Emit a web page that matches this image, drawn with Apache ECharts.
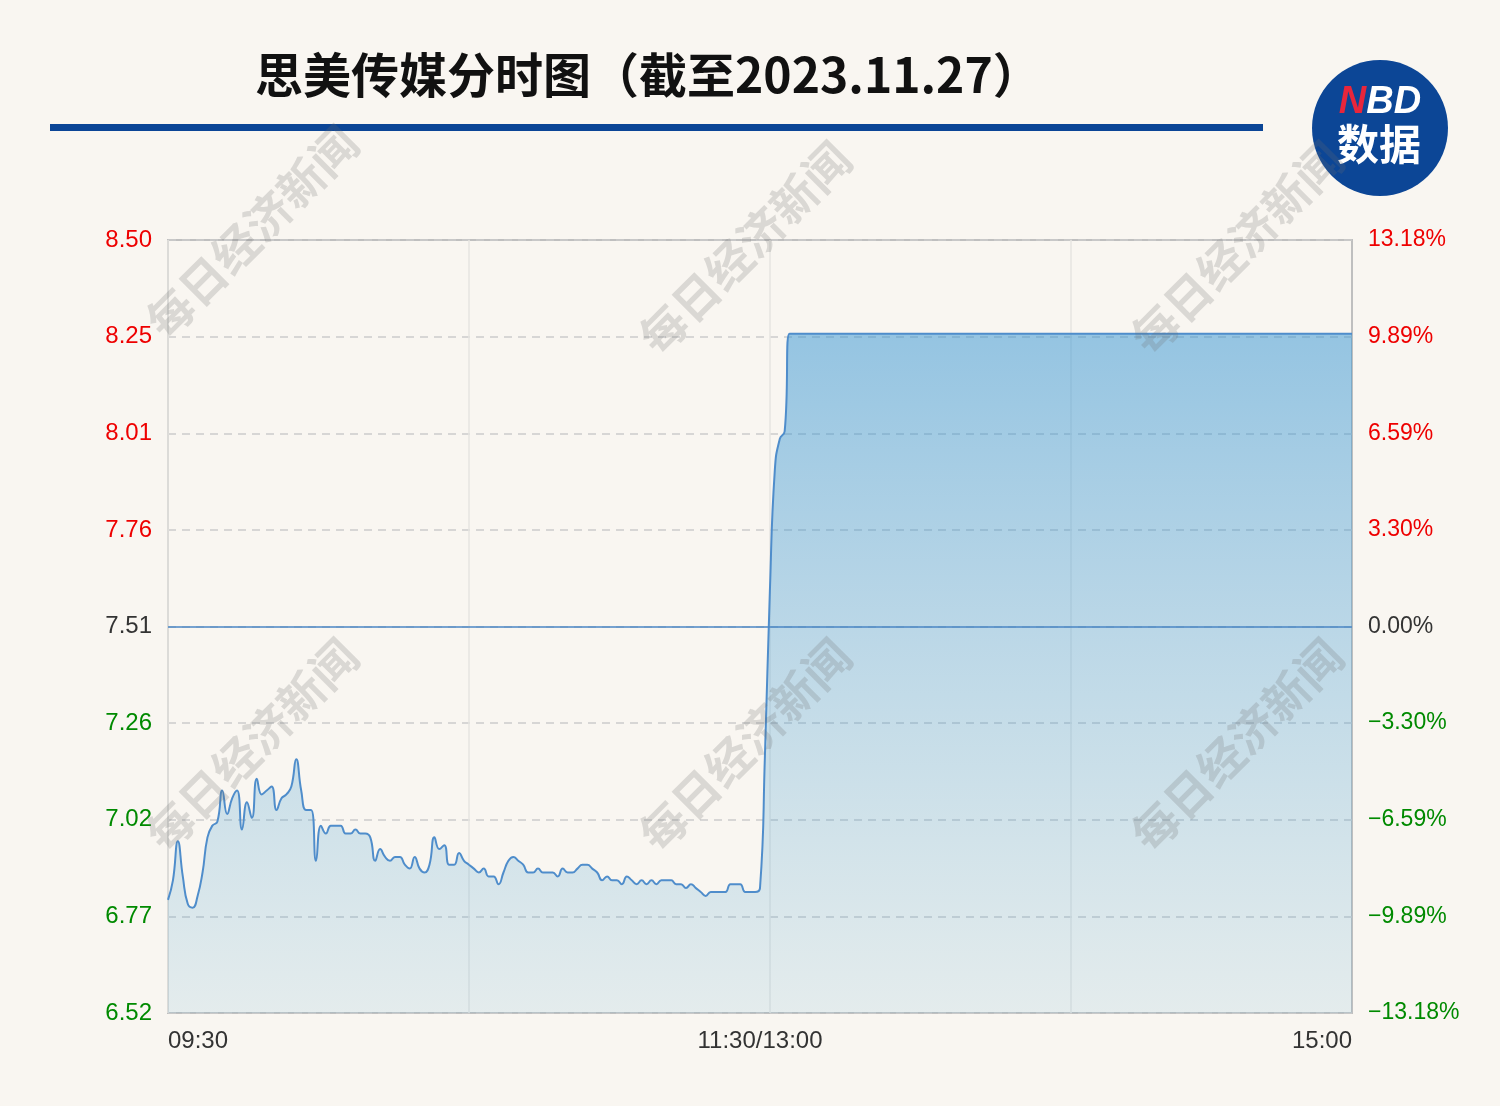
<!DOCTYPE html>
<html>
<head>
<meta charset="utf-8">
<title>思美传媒分时图</title>
<script src="https://cdn.jsdelivr.net/npm/echarts@6/dist/echarts.min.js"></script>
<style>
  html, body { margin: 0; padding: 0; background: #f9f6f1; }
  #chart { width: 1500px; height: 1106px; }
</style>
</head>
<body>
<div id="chart"></div>
<script>
// 昨收
const prevClose = 7.51;

// 分时价格（09:30-11:30 共121个，13:01-15:00 共120个）
const morningPrices = [
  6.81, 6.86, 6.96, 6.87, 6.80, 6.79, 6.82, 6.88, 6.97, 7.00,
  7.01, 7.09, 7.03, 7.07, 7.09, 6.99, 7.06, 7.02, 7.12, 7.08,
  7.09, 7.10, 7.04, 7.07, 7.08, 7.10, 7.17, 7.09, 7.04, 7.04,
  6.91, 7.00, 6.98, 7.00, 7.00, 7.00, 6.98, 6.98, 6.99, 6.98,
  6.98, 6.97, 6.91, 6.94, 6.92, 6.91, 6.92, 6.92, 6.90, 6.89,
  6.92, 6.89, 6.88, 6.90, 6.97, 6.94, 6.95, 6.90, 6.90, 6.93,
  6.91, 6.90, 6.89, 6.88, 6.89, 6.87, 6.87, 6.85, 6.88, 6.91,
  6.92, 6.91, 6.90, 6.88, 6.88, 6.89, 6.88, 6.88, 6.88, 6.87,
  6.89, 6.88, 6.88, 6.89, 6.90, 6.90, 6.89, 6.88, 6.86, 6.87,
  6.86, 6.86, 6.85, 6.87, 6.86, 6.85, 6.86, 6.85, 6.86, 6.85,
  6.86, 6.86, 6.86, 6.85, 6.85, 6.84, 6.85, 6.84, 6.83, 6.82,
  6.83, 6.83, 6.83, 6.83, 6.85, 6.85, 6.85, 6.83, 6.83, 6.83,
  6.84
];
const afternoonPrices = [
  7.18, 7.60, 7.91, 7.99, 8.01,
  8.26, 8.26, 8.26, 8.26, 8.26, 8.26, 8.26, 8.26, 8.26, 8.26,
  8.26, 8.26, 8.26, 8.26, 8.26, 8.26, 8.26, 8.26, 8.26, 8.26,
  8.26, 8.26, 8.26, 8.26, 8.26, 8.26, 8.26, 8.26, 8.26, 8.26,
  8.26, 8.26, 8.26, 8.26, 8.26, 8.26, 8.26, 8.26, 8.26, 8.26,
  8.26, 8.26, 8.26, 8.26, 8.26, 8.26, 8.26, 8.26, 8.26, 8.26,
  8.26, 8.26, 8.26, 8.26, 8.26, 8.26, 8.26, 8.26, 8.26, 8.26,
  8.26, 8.26, 8.26, 8.26, 8.26, 8.26, 8.26, 8.26, 8.26, 8.26,
  8.26, 8.26, 8.26, 8.26, 8.26, 8.26, 8.26, 8.26, 8.26, 8.26,
  8.26, 8.26, 8.26, 8.26, 8.26, 8.26, 8.26, 8.26, 8.26, 8.26,
  8.26, 8.26, 8.26, 8.26, 8.26, 8.26, 8.26, 8.26, 8.26, 8.26,
  8.26, 8.26, 8.26, 8.26, 8.26, 8.26, 8.26, 8.26, 8.26, 8.26,
  8.26, 8.26, 8.26, 8.26, 8.26
];

// 刻度标签
const priceTicks = ['6.52', '6.77', '7.02', '7.26', '7.51', '7.76', '8.01', '8.25', '8.50'];
const pctTicks = ['−13.18%', '−9.89%', '−6.59%', '−3.30%', '0.00%', '3.30%', '6.59%', '9.89%', '13.18%'];
const xTickLabels = { 0: '09:30', 120: '11:30/13:00', 240: '15:00' };

// 时间轴
const pad = n => (n < 10 ? '0' : '') + n;
const times = [];
for (let m = 9 * 60 + 30; m <= 11 * 60 + 30; m++) times.push(pad(Math.floor(m / 60)) + ':' + pad(m % 60));
for (let m = 13 * 60 + 1; m <= 15 * 60; m++) times.push(pad(Math.floor(m / 60)) + ':' + pad(m % 60));

const prices = morningPrices.concat(afternoonPrices);
const pctData = prices.map(p => +((p / prevClose - 1) * 100).toFixed(3));

const pctMax = 13.18;
const pctStep = 3.295;
const tickIndex = v => Math.round((Number(v) + pctMax) / pctStep);
const tickColor = v => {
  const i = tickIndex(v);
  return i > 4 ? '#ee0000' : (i < 4 ? '#008a00' : '#333333');
};

const chart = echarts.init(document.getElementById('chart'));

const watermark = (x, y) => ({
  type: 'text',
  x: x,
  y: y,
  rotation: Math.PI / 4,
  z: 100,
  silent: true,
  style: {
    text: '每日经济新闻',
    font: 'bold 46px "Noto Sans CJK SC"',
    fill: 'rgba(110,110,110,0.22)',
    align: 'center',
    verticalAlign: 'middle'
  }
});

const option = {
  backgroundColor: '#f9f6f1',
  animation: false,
  grid: {
    left: 168,
    right: 148,
    top: 240,
    bottom: 93,
    show: true,
    borderColor: '#bfbfbf',
    borderWidth: 2,
    backgroundColor: 'transparent'
  },
  xAxis: {
    type: 'category',
    boundaryGap: false,
    data: times,
    axisLine: { show: false },
    axisTick: { show: false },
    axisLabel: {
      interval: idx => xTickLabels[idx] !== undefined,
      formatter: (val, idx) => xTickLabels[idx] || '',
      color: '#333',
      fontSize: 24,
      fontFamily: 'Liberation Sans',
      margin: 16,
      alignMinLabel: 'left',
      alignMaxLabel: 'right'
    },
    splitLine: {
      show: true,
      interval: 60,
      lineStyle: { color: '#e6e4e0', width: 1.5 }
    }
  },
  yAxis: [
    {
      type: 'value',
      min: -pctMax,
      max: pctMax,
      interval: pctStep,
      axisLine: { show: false },
      axisTick: { show: false },
      axisLabel: {
        formatter: v => priceTicks[tickIndex(v)],
        color: tickColor,
        fontSize: 24,
        fontFamily: 'Liberation Sans',
        padding: [6, 0, 0, 0],
        margin: 16
      },
      splitLine: {
        lineStyle: { color: '#cccccc', type: [8, 6], width: 1.5 }
      }
    },
    {
      type: 'value',
      position: 'right',
      min: -pctMax,
      max: pctMax,
      interval: pctStep,
      axisLine: { show: false },
      axisTick: { show: false },
      axisLabel: {
        formatter: v => pctTicks[tickIndex(v)],
        color: tickColor,
        fontSize: 23,
        fontFamily: 'Liberation Sans',
        padding: [6, 0, 0, 0],
        margin: 16
      },
      splitLine: { show: false }
    }
  ],
  series: [
    {
      name: '思美传媒',
      type: 'line',
      data: pctData,
      smooth: true,
      symbol: 'none',
      lineStyle: { color: '#4f8dcb', width: 2 },
      areaStyle: {
        origin: 'start',
        color: new echarts.graphic.LinearGradient(0, 0, 0, 1, [
          { offset: 0, color: 'rgba(45,145,210,0.7)' },
          { offset: 0.45, color: 'rgba(55,150,210,0.45)' },
          { offset: 1, color: 'rgba(70,160,205,0.17)' }
        ])
      },
      markLine: {
        silent: true,
        symbol: 'none',
        label: { show: false },
        lineStyle: { type: 'solid', color: '#4a86c5', width: 1.5 },
        data: [{ yAxis: 0 }]
      }
    }
  ],
  graphic: [
    {
      type: 'text',
      left: 255,
      top: 51,
      style: {
        text: '思美传媒分时图（截至2023.11.27）',
        font: 'bold 48px "Noto Sans CJK SC"',
        fill: '#111111'
      }
    },
    {
      type: 'rect',
      shape: { x: 50, y: 124, width: 1213, height: 7 },
      style: { fill: '#0b4596' }
    },
    {
      type: 'circle',
      shape: { cx: 1380, cy: 128, r: 68 },
      style: { fill: '#0c4696' }
    },
    {
      type: 'text',
      x: 1380,
      y: 103,
      style: {
        text: '{n|N}{bd|BD}',
        align: 'center',
        verticalAlign: 'middle',
        rich: {
          n: { font: 'italic bold 38px "Liberation Sans"', fill: '#e8263b' },
          bd: { font: 'italic bold 38px "Liberation Sans"', fill: '#ffffff' }
        }
      }
    },
    {
      type: 'text',
      x: 1379,
      y: 144,
      style: {
        text: '数据',
        font: 'bold 42px "Noto Sans CJK SC"',
        fill: '#ffffff',
        align: 'center',
        verticalAlign: 'middle'
      }
    },
    watermark(252, 232),
    watermark(745, 248),
    watermark(1237, 248),
    watermark(252, 745),
    watermark(745, 745),
    watermark(1237, 745)
  ]
};

chart.setOption(option);
</script>
</body>
</html>
